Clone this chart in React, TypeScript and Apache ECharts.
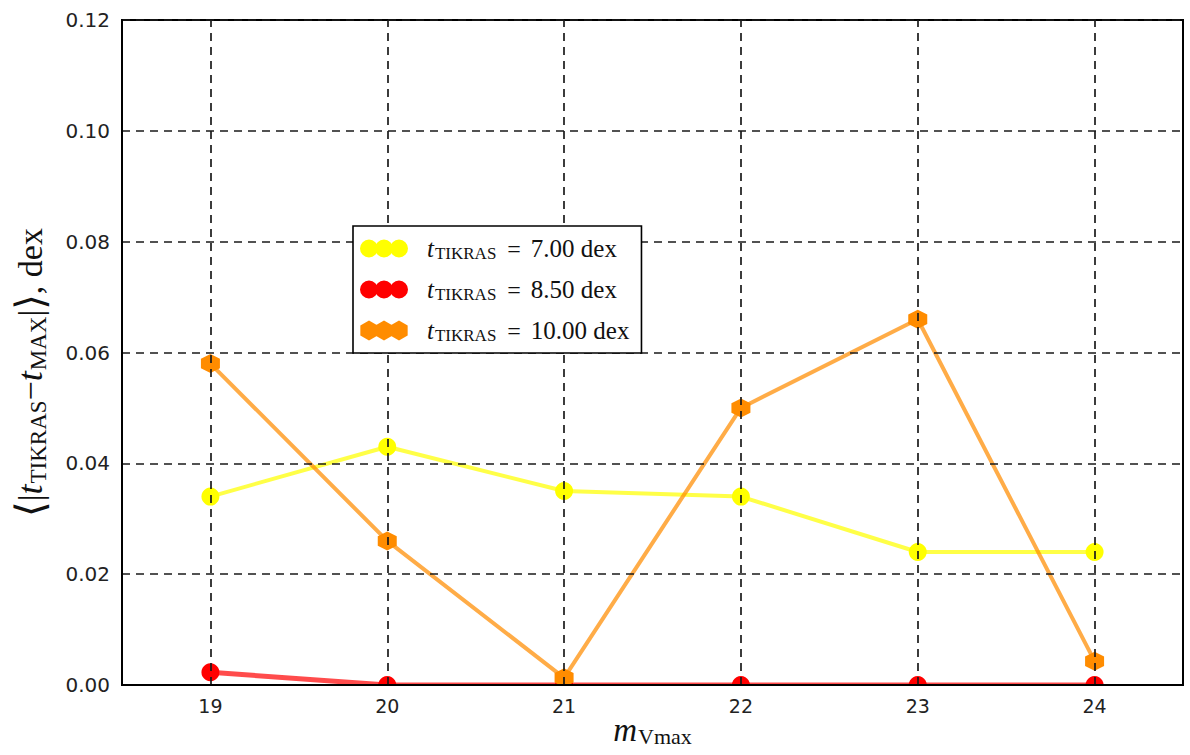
import React, { useEffect, useRef } from "react";
import * as echarts from "echarts";

// Magnitude bins (x) and mean absolute age differences (dex) per TIKRAS age
const magnitudes = [19, 20, 21, 22, 23, 24];
const diffAge700 = [0.034, 0.043, 0.035, 0.034, 0.024, 0.024];
const diffAge850 = [0.0023, 0, 0, 0, 0, 0];
const diffAge1000 = [0.058, 0.026, 0.0013, 0.05, 0.066, 0.0043];
const ageLabels = ["7.00 dex", "8.50 dex", "10.00 dex"];

const X_MIN = 18.5;
const X_MAX = 24.5;
const Y_MIN = 0;
const Y_MAX = 0.12;
const Y_STEP = 0.02;

const MATH_FONT = "'Liberation Serif', 'DejaVu Serif', serif";
const TICK_FONT = "'DejaVu Sans', sans-serif";

// Three overlapping circles / hexagons used as legend swatches
const circlesIcon =
  "path://M0,9a9,9 0 1,0 18,0a9,9 0 1,0 -18,0Z" +
  "M15,9a9,9 0 1,0 18,0a9,9 0 1,0 -18,0Z" +
  "M30,9a9,9 0 1,0 18,0a9,9 0 1,0 -18,0Z";
const hexOne = (cx: number) =>
  `M${cx},0L${cx + 8.66},5L${cx + 8.66},15L${cx},20L${cx - 8.66},15L${cx - 8.66},5Z`;
const hexIcon = "path://" + hexOne(8.66) + hexOne(23.66) + hexOne(38.66);
const hexSymbol = "path://M0,-1L0.866,-0.5L0.866,0.5L0,1L-0.866,0.5L-0.866,-0.5Z";

const toPoints = (vals: number[]) => magnitudes.map((m, i) => [m, vals[i]]);

export default function App() {
  const ref = useRef<HTMLDivElement>(null);

  useEffect(() => {
    if (!ref.current) return;
    const chart = echarts.init(ref.current, undefined, { renderer: "svg" });

    const dashed = { color: "#1a1a1a", width: 1.7, type: [8, 6] as number[] };

    const option: any = {
      animation: false,
      backgroundColor: "#ffffff",
      grid: {
        left: 122,
        right: 7,
        top: 20,
        bottom: 70,
        outerBoundsMode: "none",
        containLabel: false,
        show: true,
        borderColor: "#000",
        borderWidth: 2,
        backgroundColor: "transparent",
      },
      xAxis: {
        type: "value",
        min: X_MIN,
        max: X_MAX,
        interval: 0.5,
        z: 20,
        axisLine: { show: true, onZero: false, lineStyle: { color: "#000", width: 2 } },
        axisTick: { show: false },
        splitLine: { show: false },
        axisLabel: {
          margin: 11,
          fontFamily: TICK_FONT,
          fontSize: 19,
          color: "#222",
          formatter: (v: number) => (Number.isInteger(v) ? String(v) : ""),
        },
        name: "{m|m}{s|Vmax}",
        nameLocation: "middle",
        nameGap: 30,
        nameMoveOverlap: false,
        nameTextStyle: {
          fontFamily: MATH_FONT,
          color: "#111",
          rich: {
            m: { fontSize: 33, fontStyle: "italic", fontFamily: MATH_FONT, lineHeight: 30 },
            s: { fontSize: 22, fontFamily: MATH_FONT, lineHeight: 18, padding: [12, 0, 0, 1] },
          },
        },
      },
      yAxis: {
        type: "value",
        min: Y_MIN,
        max: Y_MAX,
        interval: Y_STEP,
        z: 3,
        axisLine: { show: true, lineStyle: { color: "#000", width: 2 } },
        axisTick: { show: false },
        splitLine: { show: true, lineStyle: dashed },
        axisLabel: {
          margin: 12,
          fontFamily: TICK_FONT,
          fontSize: 20,
          color: "#222",
          formatter: (v: number) => v.toFixed(2),
        },
        name: "{b|⟨}{v||}{t|t}{s|TIKRAS}{o|−}{t|t}{s|MAX}{v||}{b|⟩}{n|, dex}",
        nameLocation: "middle",
        nameRotate: 90,
        nameGap: 72,
        nameTextStyle: {
          fontFamily: MATH_FONT,
          color: "#111",
          padding: [0, 40, 0, 0],
          rich: {
            b: { fontSize: 40, fontFamily: "'DejaVu Serif', serif", lineHeight: 40 },
            v: { fontSize: 34, fontFamily: MATH_FONT, lineHeight: 34 },
            t: { fontSize: 36, fontStyle: "italic", fontFamily: MATH_FONT, lineHeight: 34 },
            s: { fontSize: 23, fontFamily: MATH_FONT, lineHeight: 22, padding: [16, 0, 0, 1] },
            o: { fontSize: 34, fontFamily: MATH_FONT, lineHeight: 34 },
            n: { fontSize: 34, fontFamily: MATH_FONT, lineHeight: 34 },
          },
        },
      },
      legend: {
        show: true,
        orient: "vertical",
        left: 353,
        top: 226,
        z: 30,
        backgroundColor: "#ffffff",
        borderColor: "#000",
        borderWidth: 1.6,
        borderRadius: 0,
        padding: [9, 12, 9, 7],
        itemWidth: 48,
        itemHeight: 20,
        itemGap: 14,
        data: [
          { name: ageLabels[0], icon: circlesIcon, itemStyle: { color: "#ffff00", opacity: 1 } },
          { name: ageLabels[1], icon: circlesIcon, itemStyle: { color: "#ff0000", opacity: 1 } },
          { name: ageLabels[2], icon: hexIcon, itemStyle: { color: "#ff8c00", opacity: 1 } },
        ],
        formatter: (name: string) => `{t|t}{s|TIKRAS}{e|=}{n|${name}}`,
        textStyle: {
          fontFamily: MATH_FONT,
          color: "#111",
          rich: {
            t: { fontSize: 25, fontStyle: "italic", fontFamily: MATH_FONT, lineHeight: 22, padding: [0, 0, 0, 14] },
            s: { fontSize: 17, fontFamily: MATH_FONT, lineHeight: 16, padding: [10, 0, 0, 1] },
            e: { fontSize: 24, fontFamily: MATH_FONT, lineHeight: 22, padding: [0, 10, 0, 11] },
            n: { fontSize: 25, fontFamily: MATH_FONT, lineHeight: 22 },
          },
        },
      },
      graphic: [
        {
          // mask below the plot frame so markers sitting on y = 0 appear half-clipped
          type: "rect",
          z: 10,
          silent: true,
          shape: { x: 123, y: 686, width: 1059, height: 14 },
          style: { fill: "#ffffff" },
        },
      ],
      series: [
        {
          name: ageLabels[0],
          type: "line",
          data: toPoints(diffAge700),
          symbol: "circle",
          symbolSize: 18,
          itemStyle: { color: "#ffff00", opacity: 1 },
          lineStyle: { color: "rgba(255,255,0,0.72)", width: 4 },
          z: 2,
        },
        {
          name: ageLabels[1],
          type: "line",
          data: toPoints(diffAge850),
          symbol: "circle",
          symbolSize: 18,
          itemStyle: { color: "#ff0000", opacity: 1 },
          lineStyle: { color: "rgba(255,0,0,0.7)", width: 5 },
          z: 2,
        },
        {
          name: ageLabels[2],
          type: "line",
          data: toPoints(diffAge1000),
          symbol: hexSymbol,
          symbolSize: 19,
          itemStyle: { color: "#ff8c00", opacity: 1 },
          lineStyle: { color: "rgba(255,140,0,0.72)", width: 4 },
          z: 2,
          markLine: {
            silent: true,
            symbol: "none",
            label: { show: false },
            lineStyle: dashed,
            z: 5,
            data: magnitudes.map((m) => ({ xAxis: m })),
          },
        },
      ],
    };

    chart.setOption(option);
    return () => chart.dispose();
  }, []);

  return (
    <div
      ref={ref}
      style={{ position: "absolute", left: 0, top: 0, width: 1190, height: 755 }}
    />
  );
}
